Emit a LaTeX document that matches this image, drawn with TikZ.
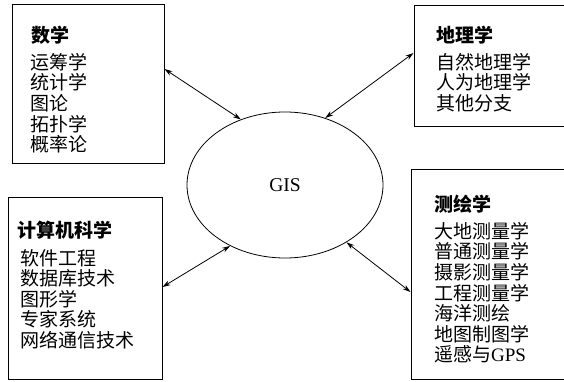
\documentclass[tikz,border=0pt]{standalone}
\usepackage{fontspec}
\setmainfont{Liberation Serif}
\newfontfamily\cjk{Noto Sans CJK SC}
\usetikzlibrary{arrows.meta,shapes.geometric}
\begin{document}
\begin{tikzpicture}[x=1pt,y=-1pt,
  box/.style={draw, line width=1pt, inner sep=0pt, rectangle},
  txt/.style={anchor=north west, align=left, inner sep=0pt,
    font=\fontsize{19}{20.6}\selectfont\cjk},
  ttl/.style={anchor=north west, inner sep=0pt,
    font=\fontsize{19}{20.6}\selectfont\cjk\bfseries},
  link/.style={line width=0.8pt, {Stealth[length=8pt,width=5pt]}-{Stealth[length=8pt,width=5pt]}}
]
\useasboundingbox (0,0) rectangle (564,382);
\fill[white] (0,0) rectangle (564,382);

\node[box, minimum width=152pt, minimum height=159pt] (b1) at (88,84.5) {};
\node[box, minimum width=153pt, minimum height=121pt] (b2) at (490.5,66.5) {};
\node[box, minimum width=154pt, minimum height=182pt] (b3) at (85,288) {};
\node[box, minimum width=156pt, minimum height=210pt] (b4) at (489,274) {};

\node[draw, ellipse, line width=0.8pt, minimum width=196pt, minimum height=146pt,
      font=\fontsize{19.5}{22}\selectfont] (gis) at (285,185) {GIS};

\node[ttl] (t1) at (31,26) {数学};
\node[txt] (l1) at (30,53) {运筹学\\统计学\\图论\\拓扑学\\概率论};

\node[ttl] (t2) at (436,26) {地理学};
\node[txt] (l2) at (436,53) {自然地理学\\人为地理学\\其他分支};

\node[ttl] (t3) at (17,221) {计算机科学};
\node[txt] (l3) at (20,249) {软件工程\\数据库技术\\图形学\\专家系统\\网络通信技术};

\node[ttl] (t4) at (434,195) {测绘学};
\node[txt] (l4) at (434,222) {大地测量学\\普通测量学\\摄影测量学\\工程测量学\\海洋测绘\\地图制图学\\遥感与{\rmfamily GPS}};

\coordinate (p1) at (b1.east |- 0,69);
\coordinate (p2) at (b2.west |- 0,53);
\coordinate (p3) at (b3.east |- 0,287);
\coordinate (p4) at (b4.west |- 0,292);

\draw[link] (p1) -- (gis.124.7);
\draw[link] (p2) -- (gis.59.5);
\draw[link] (p3) -- (gis.228);
\draw[link] (p4) -- (gis.317.4);
\end{tikzpicture}
\end{document}
